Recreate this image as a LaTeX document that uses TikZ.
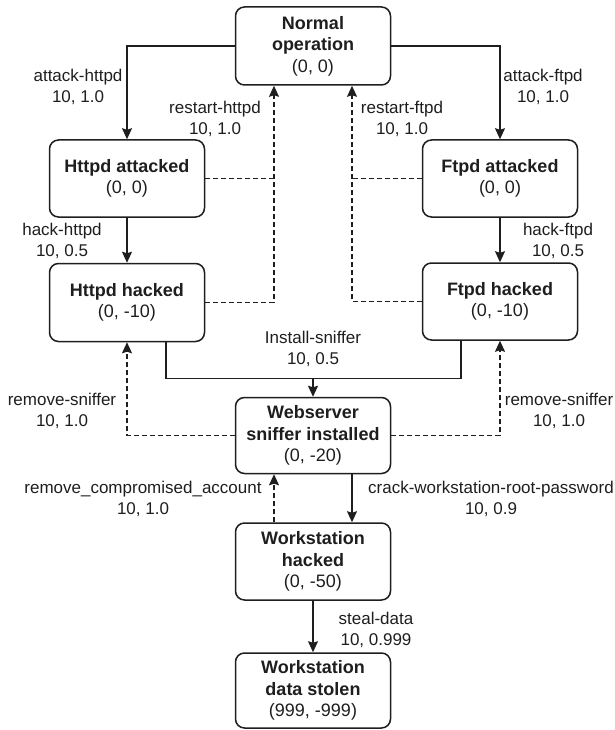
\documentclass[tikz,border=0pt]{standalone}
\usepackage{fontspec}
\setmainfont{Liberation Sans}
\usetikzlibrary{arrows.meta}
\definecolor{ink}{HTML}{1E1E1E}

\begin{document}
\begin{tikzpicture}[
  x=1pt, y=-1pt,
  >={Stealth[length=11pt,width=10pt,inset=1.5pt]},
  state/.style={draw=ink, line width=1.5pt, rounded corners=9pt, minimum width=155pt, minimum height=#1, align=center, inner sep=2pt, text=ink, font=\fontsize{18}{21.5}\selectfont},
  lbl/.style={align=center, inner sep=0pt, text=ink, font=\fontsize{17}{21}\selectfont},
  wire/.style={line width=1.3pt, draw=ink},
  arr/.style={wire, ->},
  dashwire/.style={wire, dash pattern=on 5pt off 3pt},
  back/.style={dashwire, ->},
]
\useasboundingbox (0,0) rectangle (615,730);

% states
\node[state=78pt] (normal) at (313, 46) {\textbf{Normal}\\\textbf{operation}\\(0, 0)};
\node[state=77pt] (hattack) at (127, 178.5) {\textbf{Httpd attacked}\\(0, 0)};
\node[state=77pt] (fattack) at (500, 178.5) {\textbf{Ftpd attacked}\\(0, 0)};
\node[state=78pt] (hhack) at (127, 302.5) {\textbf{Httpd hacked}\\(0, -10)};
\node[state=77pt] (fhack) at (500, 301.5) {\textbf{Ftpd hacked}\\(0, -10)};
\node[state=76pt] (web) at (313, 435.5) {\textbf{Webserver}\\\textbf{sniffer installed}\\(0, -20)};
\node[state=77pt] (ws) at (313, 561.5) {\textbf{Workstation}\\\textbf{hacked}\\(0, -50)};
\node[state=75pt] (stolen) at (313, 690.5) {\textbf{Workstation}\\\textbf{data stolen}\\(999, -999)};

\coordinate (hup) at (274, 0);
\coordinate (fup) at (352, 0);
\coordinate (sniff) at (313, 378.5);

% transitions
\draw[arr] (normal.west) -| (hattack.north);
\draw[arr] (normal.east) -| (fattack.north);
\draw[dashwire] (hattack.east) -- (hattack.east -| hup);
\draw[back] (hhack.east) -| (normal.south -| hup);
\draw[dashwire] (fattack.west) -- (fattack.west -| fup);
\draw[back] (fhack.west) -| (normal.south -| fup);
\draw[arr] (hattack) -- (hhack);
\draw[arr] (fattack) -- (fhack);
\draw[arr] ([xshift=39pt]hhack.south) |- (sniff) -- (web.north);
\draw[wire] ([xshift=-39pt]fhack.south) |- (sniff);
\draw[back] (web.west) -| (hhack.south);
\draw[back] (web.east) -| (fhack.south);
\draw[back] ([xshift=-39pt]ws.north) -- ([xshift=-39pt]web.south);
\draw[arr] ([xshift=39pt]web.south) -- ([xshift=39pt]ws.north);
\draw[arr] (ws) -- (stolen);

% labels
\node[lbl] (lah) at (78, 86.5) {attack-httpd\\10, 1.0};
\node[lbl] (laf) at (543, 86.5) {attack-ftpd\\10, 1.0};
\node[lbl] (lrh) at (215, 119) {restart-httpd\\10, 1.0};
\node[lbl] (lrf) at (402, 119) {restart-ftpd\\10, 1.0};
\node[lbl] (lhh) at (62, 241) {hack-httpd\\10, 0.5};
\node[lbl] (lhf) at (558, 241) {hack-ftpd\\10, 0.5};
\node[lbl] (lis) at (313, 348.5) {Install-sniffer\\10, 0.5};
\node[lbl] (lrs1) at (62, 410.5) {remove-sniffer\\10, 1.0};
\node[lbl] (lrs2) at (559, 410.5) {remove-sniffer\\10, 1.0};
\node[lbl] (lrc) at (143, 499) {remove\_compromised\_account\\10, 1.0};
\node[lbl] (lcw) at (491, 499) {crack-workstation-root-password\\10, 0.9};
\node[lbl] (lsd) at (376, 629.5) {steal-data\\10, 0.999};

\end{tikzpicture}
\end{document}
